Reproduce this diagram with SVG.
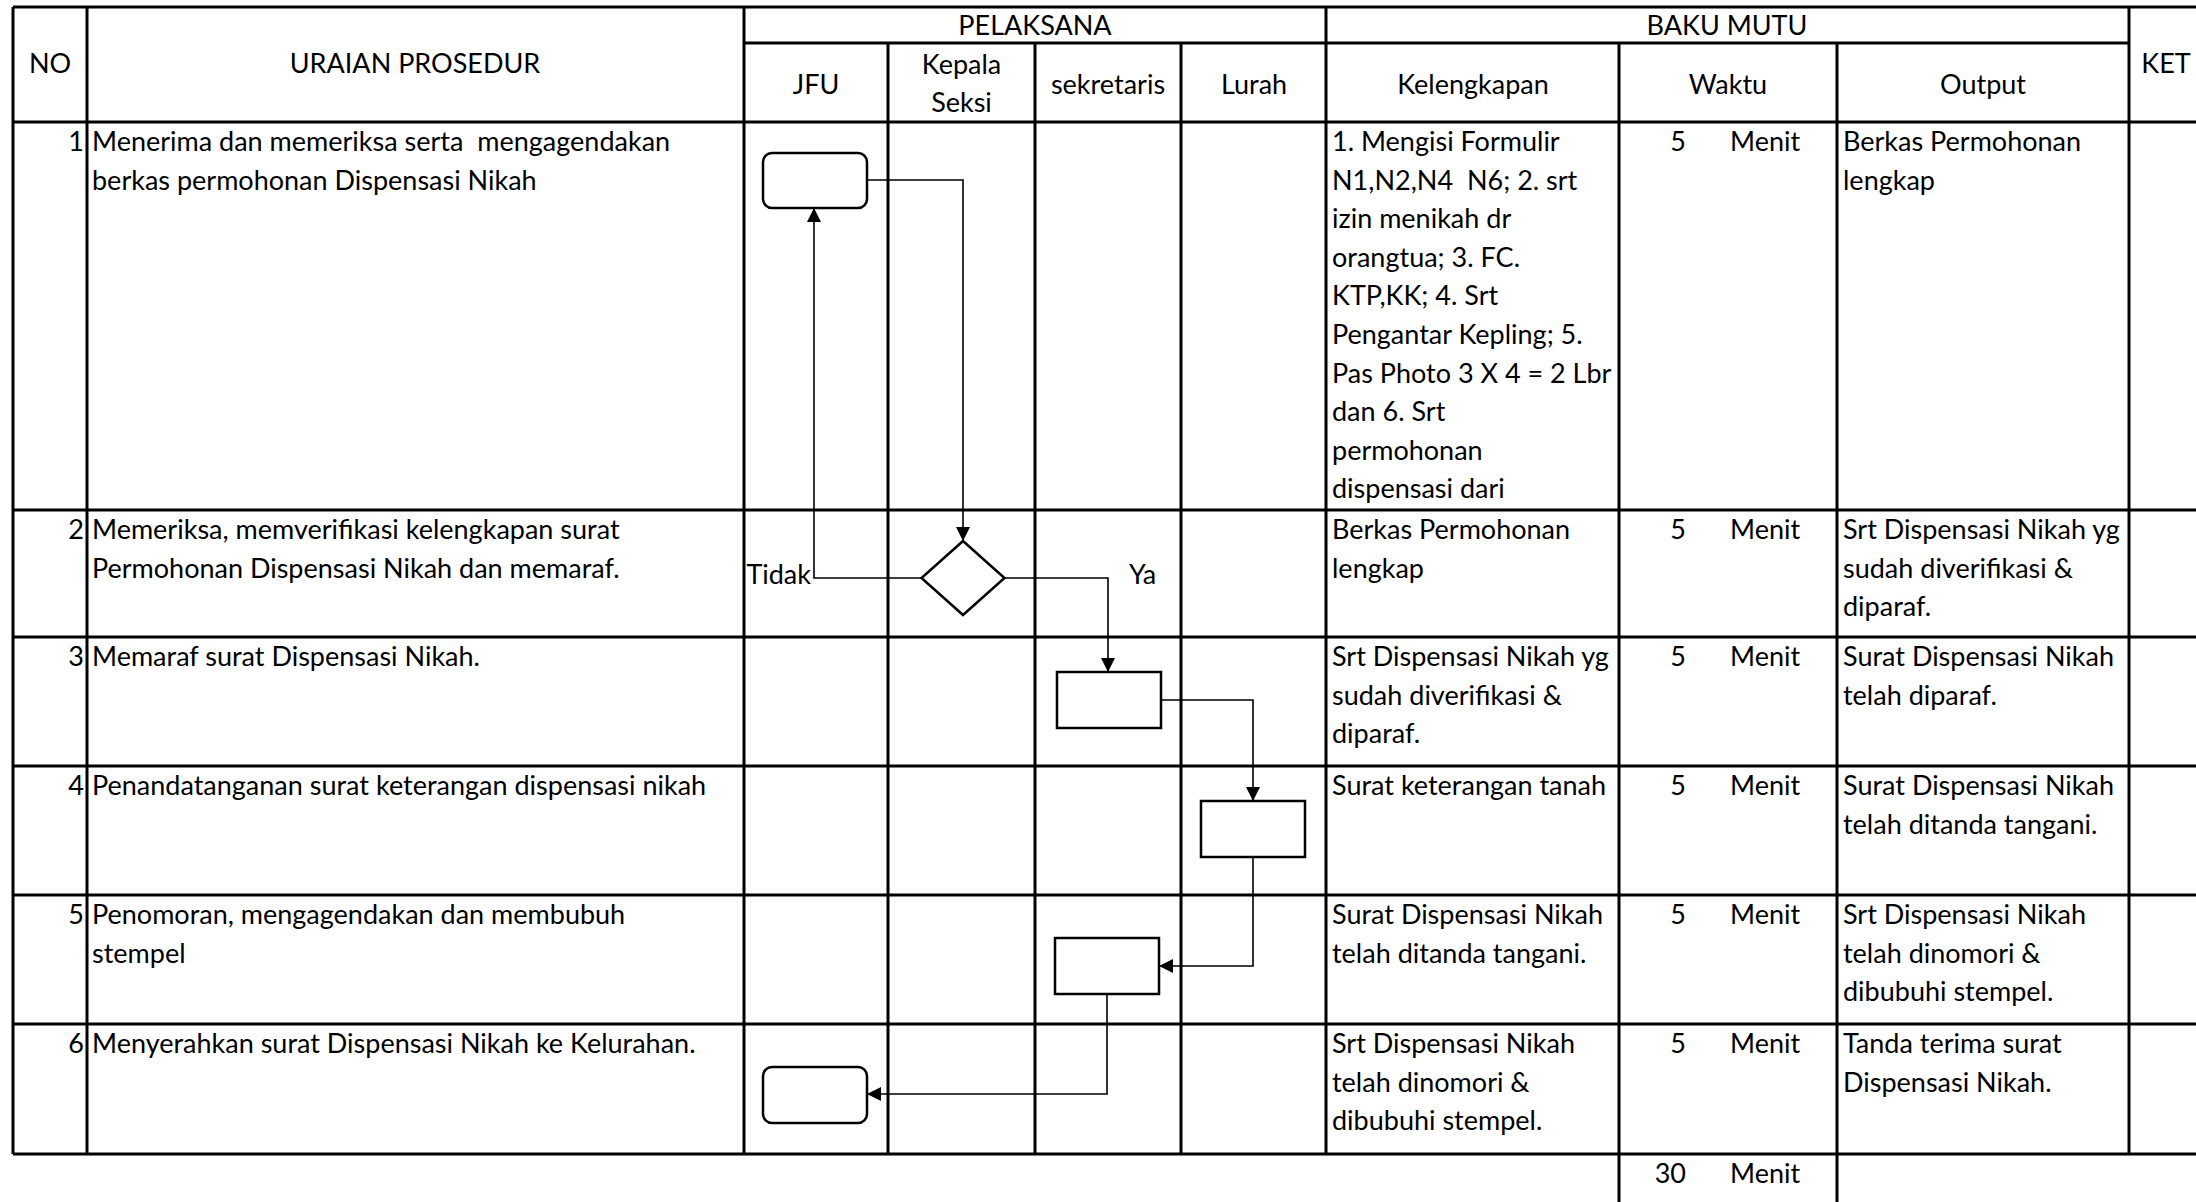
<svg xmlns="http://www.w3.org/2000/svg" width="2196" height="1202" viewBox="0 0 2196 1202">
<style>
.t{font-family:Lato,"Open Sans","Liberation Sans",sans-serif;font-size:27px;fill:#000}
.c{text-anchor:middle}
.r{text-anchor:end}
.grid line{stroke:#000;stroke-width:3}
.box{fill:#fff;stroke:#000;stroke-width:2.5}
.conn path{fill:none;stroke:#000;stroke-width:1.6}
</style>
<defs>
<marker id="arr" viewBox="0 0 10 10" refX="10" refY="5" markerWidth="14" markerHeight="14" markerUnits="userSpaceOnUse" orient="auto">
<path d="M0,0 L10,5 L0,10 z" fill="#000"/>
</marker>
</defs>
<rect width="2196" height="1202" fill="#fff"/>
<g id="grid" class="grid">
<line x1="13" y1="7" x2="2196" y2="7"/>
<line x1="744" y1="43" x2="2129" y2="43"/>
<line x1="13" y1="122" x2="2196" y2="122"/>
<line x1="13" y1="510" x2="2196" y2="510"/>
<line x1="13" y1="637" x2="2196" y2="637"/>
<line x1="13" y1="766" x2="2196" y2="766"/>
<line x1="13" y1="895" x2="2196" y2="895"/>
<line x1="13" y1="1024" x2="2196" y2="1024"/>
<line x1="13" y1="1154" x2="2196" y2="1154"/>
<line x1="13" y1="7" x2="13" y2="1154"/>
<line x1="87" y1="7" x2="87" y2="1154"/>
<line x1="744" y1="7" x2="744" y2="1154"/>
<line x1="888" y1="43" x2="888" y2="1154"/>
<line x1="1035" y1="43" x2="1035" y2="1154"/>
<line x1="1181" y1="43" x2="1181" y2="1154"/>
<line x1="1326" y1="7" x2="1326" y2="1154"/>
<line x1="1619" y1="43" x2="1619" y2="1202"/>
<line x1="1837" y1="43" x2="1837" y2="1202"/>
<line x1="2129" y1="7" x2="2129" y2="1154"/>
</g>
<g id="header" class="t">
<text class="c" x="50" y="73">NO</text>
<text class="c" x="415" y="73">URAIAN PROSEDUR</text>
<text class="c" x="1035" y="35">PELAKSANA</text>
<text class="c" x="1727" y="35">BAKU MUTU</text>
<text class="c" x="2166" y="73">KET</text>
<text class="c" x="816" y="93.5">JFU</text>
<text class="c" x="961.5" y="74">Kepala</text>
<text class="c" x="961.5" y="112">Seksi</text>
<text class="c" x="1108" y="93.5">sekretaris</text>
<text class="c" x="1254" y="93.5">Lurah</text>
<text class="c" x="1473" y="93.5">Kelengkapan</text>
<text class="c" x="1728" y="93.5">Waktu</text>
<text class="c" x="1983" y="93.5">Output</text>
</g>
<g id="rows" class="t">
<text class="r" x="84" y="151">1</text>
<text x="92" y="151" xml:space="preserve">Menerima dan memeriksa serta  mengagendakan</text>
<text x="92" y="189.6">berkas permohonan Dispensasi Nikah</text>
<text x="1332" y="151">1. Mengisi Formulir</text>
<text x="1332" y="189.6" xml:space="preserve">N1,N2,N4  N6; 2. srt</text>
<text x="1332" y="228.2">izin menikah dr</text>
<text x="1332" y="266.8">orangtua; 3. FC.</text>
<text x="1332" y="305.4">KTP,KK; 4. Srt</text>
<text x="1332" y="344">Pengantar Kepling; 5.</text>
<text x="1332" y="382.6">Pas Photo 3 X 4 = 2 Lbr</text>
<text x="1332" y="421.2">dan 6. Srt</text>
<text x="1332" y="459.8">permohonan</text>
<text x="1332" y="498.4">dispensasi dari</text>
<text class="r" x="1686" y="151">5</text>
<text x="1730" y="151">Menit</text>
<text x="1843" y="151">Berkas Permohonan</text>
<text x="1843" y="189.6">lengkap</text>

<text class="r" x="84" y="539">2</text>
<text x="92" y="539">Memeriksa, memverifikasi kelengkapan surat</text>
<text x="92" y="577.6">Permohonan Dispensasi Nikah dan memaraf.</text>
<text x="1332" y="539">Berkas Permohonan</text>
<text x="1332" y="577.6">lengkap</text>
<text class="r" x="1686" y="539">5</text>
<text x="1730" y="539">Menit</text>
<text x="1843" y="539">Srt Dispensasi Nikah yg</text>
<text x="1843" y="577.6">sudah diverifikasi &amp;</text>
<text x="1843" y="616.2">diparaf.</text>

<text class="r" x="84" y="666">3</text>
<text x="92" y="666">Memaraf surat Dispensasi Nikah.</text>
<text x="1332" y="666">Srt Dispensasi Nikah yg</text>
<text x="1332" y="704.6">sudah diverifikasi &amp;</text>
<text x="1332" y="743.2">diparaf.</text>
<text class="r" x="1686" y="666">5</text>
<text x="1730" y="666">Menit</text>
<text x="1843" y="666">Surat Dispensasi Nikah</text>
<text x="1843" y="704.6">telah diparaf.</text>

<text class="r" x="84" y="795">4</text>
<text x="92" y="795">Penandatanganan surat keterangan dispensasi nikah</text>
<text x="1332" y="795">Surat keterangan tanah</text>
<text class="r" x="1686" y="795">5</text>
<text x="1730" y="795">Menit</text>
<text x="1843" y="795">Surat Dispensasi Nikah</text>
<text x="1843" y="833.6">telah ditanda tangani.</text>

<text class="r" x="84" y="924">5</text>
<text x="92" y="924">Penomoran, mengagendakan dan membubuh</text>
<text x="92" y="962.6">stempel</text>
<text x="1332" y="924">Surat Dispensasi Nikah</text>
<text x="1332" y="962.6">telah ditanda tangani.</text>
<text class="r" x="1686" y="924">5</text>
<text x="1730" y="924">Menit</text>
<text x="1843" y="924">Srt Dispensasi Nikah</text>
<text x="1843" y="962.6">telah dinomori &amp;</text>
<text x="1843" y="1001.2">dibubuhi stempel.</text>

<text class="r" x="84" y="1053">6</text>
<text x="92" y="1053">Menyerahkan surat Dispensasi Nikah ke Kelurahan.</text>
<text x="1332" y="1053">Srt Dispensasi Nikah</text>
<text x="1332" y="1091.6">telah dinomori &amp;</text>
<text x="1332" y="1130.2">dibubuhi stempel.</text>
<text class="r" x="1686" y="1053">5</text>
<text x="1730" y="1053">Menit</text>
<text x="1843" y="1053">Tanda terima surat</text>
<text x="1843" y="1091.6">Dispensasi Nikah.</text>

<text class="r" x="1686" y="1183">30</text>
<text x="1730" y="1183">Menit</text>
</g>
<g id="connectors" class="conn">
<path d="M867,180 H963 V541" marker-end="url(#arr)"/>
<path d="M921.5,578 H814 V208" marker-end="url(#arr)"/>
<path d="M1004.5,578 H1108 V672" marker-end="url(#arr)"/>
<path d="M1161,700 H1253 V801" marker-end="url(#arr)"/>
<path d="M1253,857 V966 H1159" marker-end="url(#arr)"/>
<path d="M1107,994 V1094 H867" marker-end="url(#arr)"/>
</g>
<g id="labels" class="t">
<text class="r" x="811" y="584">Tidak</text>
<text x="1129" y="584">Ya</text>
</g>
<g id="n1"><rect class="box" x="763" y="153" width="104" height="55" rx="9"/></g>
<g id="n2"><polygon class="box" points="963,541 1004.5,578 963,615 921.5,578"/></g>
<g id="n3"><rect class="box" x="1057" y="672" width="104" height="56"/></g>
<g id="n4"><rect class="box" x="1201" y="801" width="104" height="56"/></g>
<g id="n5"><rect class="box" x="1055" y="938" width="104" height="56"/></g>
<g id="n6"><rect class="box" x="763" y="1067" width="104" height="56" rx="9"/></g>
</svg>
